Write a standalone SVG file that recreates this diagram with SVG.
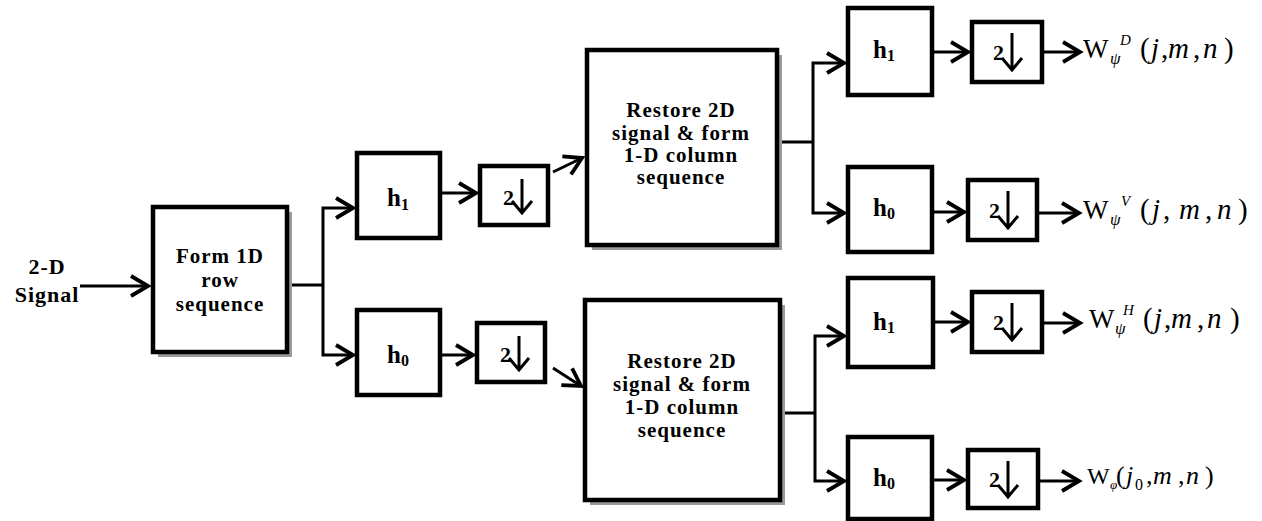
<svg xmlns="http://www.w3.org/2000/svg" width="1262" height="521" viewBox="0 0 1262 521">
<defs>
<marker id="ah" markerUnits="userSpaceOnUse" orient="auto" markerWidth="30" markerHeight="30" viewBox="-20 -15 30 30" refX="0" refY="0" overflow="visible">
<path d="M-17,-10 L0,0 L-17,10" fill="none" stroke="#000" stroke-width="3.8" stroke-linejoin="miter" stroke-linecap="butt"/>
</marker>
</defs>
<style>
text{font-family:'Liberation Serif','Times New Roman','DejaVu Serif','Noto Serif',serif}
.box{fill:#fff;stroke:#000;stroke-width:4.5}
.shadow{fill:#9a9a9a}
.ln{fill:none;stroke:#000;stroke-width:3}
.arr{fill:none;stroke:#000;stroke-width:3;marker-end:url(#ah)}
.bt{font-weight:bold;font-size:21px;letter-spacing:1px;text-anchor:middle;fill:#000}
.ht{font-weight:bold;font-size:25px;fill:#000}
.hs{font-size:16px}
.two{font-weight:bold;font-size:22px;fill:#000}
.dn{fill:none;stroke:#000;stroke-width:3}
.lab{font-size:27px;fill:#000}
.arg{font-size:29px;fill:#000}
.it{font-style:italic}
.sm{font-size:15px;font-style:italic;fill:#000}
</style>
<rect width="1262" height="521" fill="#fff"/>

<g id="input-label">
<text class="bt" x="47" y="274" style="font-size:22px">2-D</text>
<text class="bt" x="47" y="302" style="font-size:22px">Signal</text>
</g>

<g id="connectors">
<path class="arr" d="M80,286 H148"/>
<path class="ln" d="M287,285 H323"/>
<path class="arr" d="M323,285 V208 H353"/>
<path class="arr" d="M323,285 V355 H353"/>
<path class="arr" d="M440,193 H476"/>
<path class="arr" d="M440,355 H473"/>
<path class="arr" d="M553,172 L582,158"/>
<path class="arr" d="M553,368 L581,386"/>
<path class="ln" d="M777,142 H813"/>
<path class="arr" d="M813,142 V63 H844"/>
<path class="arr" d="M813,142 V213 H844"/>
<path class="ln" d="M780,413 H815"/>
<path class="arr" d="M815,413 V336 H844"/>
<path class="arr" d="M815,413 V481 H844"/>
<path class="arr" d="M932,52 H968"/>
<path class="arr" d="M1042,52 H1080"/>
<path class="arr" d="M932,212 H964"/>
<path class="arr" d="M1037,213 H1079"/>
<path class="arr" d="M933,322 H968"/>
<path class="arr" d="M1042,323 H1080"/>
<path class="arr" d="M932,480 H964"/>
<path class="arr" d="M1038,481 H1079"/>
</g>

<g id="form-row">
<rect class="shadow" x="158" y="212" width="134" height="145"/>
<rect class="box" x="153" y="207" width="134" height="145"/>
<text class="bt" x="220" y="263">Form 1D</text>
<text class="bt" x="220" y="287">row</text>
<text class="bt" x="220" y="311">sequence</text>
</g>

<g id="h1-a">
<rect class="box" x="357" y="153" width="83" height="85"/>
<text class="ht" x="387" y="206">h<tspan class="hs" dy="4">1</tspan></text>
</g>
<g id="h0-a">
<rect class="box" x="357" y="310" width="83" height="85"/>
<text class="ht" x="387" y="363">h<tspan class="hs" dy="3">0</tspan></text>
</g>

<g id="down-a">
<rect class="box" x="480" y="166" width="68" height="59"/>
<text class="two" x="503" y="205">2</text>
<path class="dn" d="M522,179 V213 M512,201 L522,213 L532,201"/>
</g>
<g id="down-b">
<rect class="box" x="477" y="323" width="68" height="59"/>
<text class="two" x="500" y="362">2</text>
<path class="dn" d="M519,336 V370 M509,358 L519,370 L529,358"/>
</g>

<g id="restore-1">
<rect class="shadow" x="592" y="55" width="190" height="195"/>
<rect class="box" x="587" y="50" width="190" height="195"/>
<text class="bt" x="681" y="117">Restore 2D</text>
<text class="bt" x="681" y="140">signal &amp; form</text>
<text class="bt" x="681" y="162">1-D column</text>
<text class="bt" x="681" y="184">sequence</text>
</g>
<g id="restore-2">
<rect class="shadow" x="590" y="305" width="195" height="200"/>
<rect class="box" x="585" y="300" width="195" height="200"/>
<text class="bt" x="682" y="368">Restore 2D</text>
<text class="bt" x="682" y="391">signal &amp; form</text>
<text class="bt" x="682" y="414">1-D column</text>
<text class="bt" x="682" y="437">sequence</text>
</g>

<g id="h1-b">
<rect class="box" x="848" y="8" width="84" height="87"/>
<text class="ht" x="873" y="58">h<tspan class="hs" dy="3">1</tspan></text>
</g>
<g id="h0-b">
<rect class="box" x="848" y="167" width="84" height="85"/>
<text class="ht" x="873" y="216">h<tspan class="hs" dy="3">0</tspan></text>
</g>
<g id="h1-c">
<rect class="box" x="848" y="278" width="85" height="89"/>
<text class="ht" x="873" y="330">h<tspan class="hs" dy="3">1</tspan></text>
</g>
<g id="h0-c">
<rect class="box" x="848" y="437" width="84" height="82"/>
<text class="ht" x="873" y="486">h<tspan class="hs" dy="3">0</tspan></text>
</g>

<g id="down-c">
<rect class="box" x="972" y="22" width="70" height="60"/>
<text class="two" x="993" y="60">2</text>
<path class="dn" d="M1012,33 V70 M1002,58 L1012,70 L1022,58"/>
</g>
<g id="down-d">
<rect class="box" x="968" y="180" width="69" height="60"/>
<text class="two" x="989" y="218">2</text>
<path class="dn" d="M1008,191 V228 M998,216 L1008,228 L1018,216"/>
</g>
<g id="down-e">
<rect class="box" x="972" y="292" width="70" height="60"/>
<text class="two" x="993" y="330">2</text>
<path class="dn" d="M1012,303 V340 M1002,328 L1012,340 L1022,328"/>
</g>
<g id="down-f">
<rect class="box" x="968" y="450" width="70" height="58"/>
<text class="two" x="989" y="487">2</text>
<path class="dn" d="M1008,461 V497 M998,485 L1008,497 L1018,485"/>
</g>

<g id="out-d">
<text class="lab" x="1083" y="58">W</text>
<text class="sm" x="1110" y="64" style="font-size:17px">ψ</text>
<text class="sm" x="1120" y="45">D</text>
<text class="arg"><tspan x="1140" y="58">(</tspan><tspan class="it" x="1151">j</tspan><tspan x="1161">,</tspan><tspan class="it" x="1168">m</tspan><tspan x="1193">,</tspan><tspan class="it" x="1203">n</tspan><tspan x="1224">)</tspan></text>
</g>
<g id="out-v">
<text class="lab" x="1083" y="219">W</text>
<text class="sm" x="1110" y="225" style="font-size:17px">ψ</text>
<text class="sm" x="1121" y="206">V</text>
<text class="arg"><tspan x="1140" y="219">(</tspan><tspan class="it" x="1152">j</tspan><tspan x="1163">,</tspan><tspan class="it" x="1179">m</tspan><tspan x="1205">,</tspan><tspan class="it" x="1217">n</tspan><tspan x="1238">)</tspan></text>
</g>
<g id="out-h">
<text class="lab" x="1089" y="328">W</text>
<text class="sm" x="1115" y="334" style="font-size:17px">ψ</text>
<text class="sm" x="1123" y="315">H</text>
<text class="arg"><tspan x="1143" y="328">(</tspan><tspan class="it" x="1154">j</tspan><tspan x="1164">,</tspan><tspan class="it" x="1171">m</tspan><tspan x="1197">,</tspan><tspan class="it" x="1207">n</tspan><tspan x="1230">)</tspan></text>
</g>
<g id="out-phi">
<text class="lab" x="1087" y="484" style="font-size:24px">W</text>
<text class="sm" x="1110" y="489" style="font-size:13px">φ</text>
<text class="lab" style="font-size:26px"><tspan x="1116" y="484">(</tspan><tspan class="it" x="1126">j</tspan><tspan x="1135" y="490" style="font-size:16px">0</tspan><tspan x="1146" y="484">,</tspan><tspan class="it" x="1153">m</tspan><tspan x="1178">,</tspan><tspan class="it" x="1186">n</tspan><tspan x="1205">)</tspan></text>
</g>
</svg>
